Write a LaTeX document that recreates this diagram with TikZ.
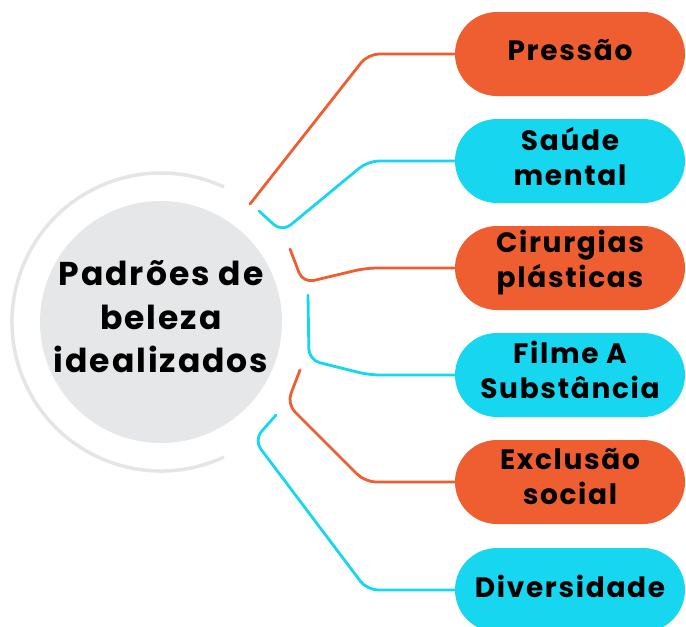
\documentclass[tikz,border=0pt]{standalone}
\usepackage{fontspec}
\newfontfamily\pf{Poppins}[LetterSpace=6]
\usetikzlibrary{shapes.misc}
\definecolor{corange}{HTML}{EF5E31}
\definecolor{ccyan}{HTML}{16D6F0}
\definecolor{cgray}{HTML}{E6E7E8}
\definecolor{carc}{HTML}{E4E5E7}
\begin{document}
\begin{tikzpicture}[x=1pt,y=-1pt,
  pill/.style={rounded rectangle, minimum width=230pt, minimum height=84pt, inner sep=0pt},
  opill/.style={pill, fill=corange},
  cpill/.style={pill, fill=ccyan},
  ptext/.style={inner sep=0pt, align=center, text=black, font=\pf\bfseries\fontsize{28}{35}\selectfont},
  link/.style={line width=2.8pt, rounded corners=11pt, line cap=round, line join=round},
  olink/.style={link, draw=corange},
  clink/.style={link, draw=ccyan}]
\useasboundingbox (0,0) rectangle (686,627);
% central circle
\node[circle, fill=cgray, minimum size=242pt, inner sep=0pt] (ctr) at (161,322) {};
\node[align=center, inner sep=0pt, font=\pf\bfseries\fontsize{33}{43.5}\selectfont] (ctrtxt) at (161,317) {Padrões de\\beleza\\idealizados};
\draw[carc, line width=3.5pt] (ctr.center) ++(65:149) arc[start angle=65, end angle=295, radius=149];
% pills
\node[opill] (p1) at (570,54)  {};
\node[cpill] (p2) at (570,161) {};
\node[opill] (p3) at (570,268) {};
\node[cpill] (p4) at (570,375) {};
\node[opill] (p5) at (570,482) {};
\node[cpill] (p6) at (570,590) {};
\node[ptext] (t1) at ([yshift=4pt]p1.center) {Pressão};
\node[ptext] (t2) at ([yshift=5pt]p2.center) {Saúde\\mental};
\node[ptext] (t3) at ([yshift=5pt]p3.center) {Cirurgias\\plásticas};
\node[ptext] (t4) at ([yshift=5pt]p4.center) {Filme A\\Substância};
\node[ptext] (t5) at ([yshift=5pt]p5.center) {Exclusão\\social};
\node[ptext] (t6) at ([yshift=4pt]p6.center) {Diversidade};
% free ends
\coordinate (s1) at (250,204);
\coordinate (s2) at (259,211);
\coordinate (s3) at (290,249);
\coordinate (s4) at (308,295);
\coordinate (s5) at (300,370);
\coordinate (s6) at (276,415);
% connectors
\draw[olink] (s1) -- (368,54) -- (p1.west);
\draw[clink] (s2) -- (282,232) -- (368,161) -- (p2.west);
\draw[olink] (s3) -- (303,283) -- (366,268) -- (p3.west);
\draw[clink] (s4) -- (309,360) -- (369,375) -- (p4.west);
\draw[olink] (s5) -- (287,404) -- (365,482) -- (p5.west);
\draw[clink] (s6) -- (254,440) -- (367,590) -- (p6.west);
\end{tikzpicture}
\end{document}
